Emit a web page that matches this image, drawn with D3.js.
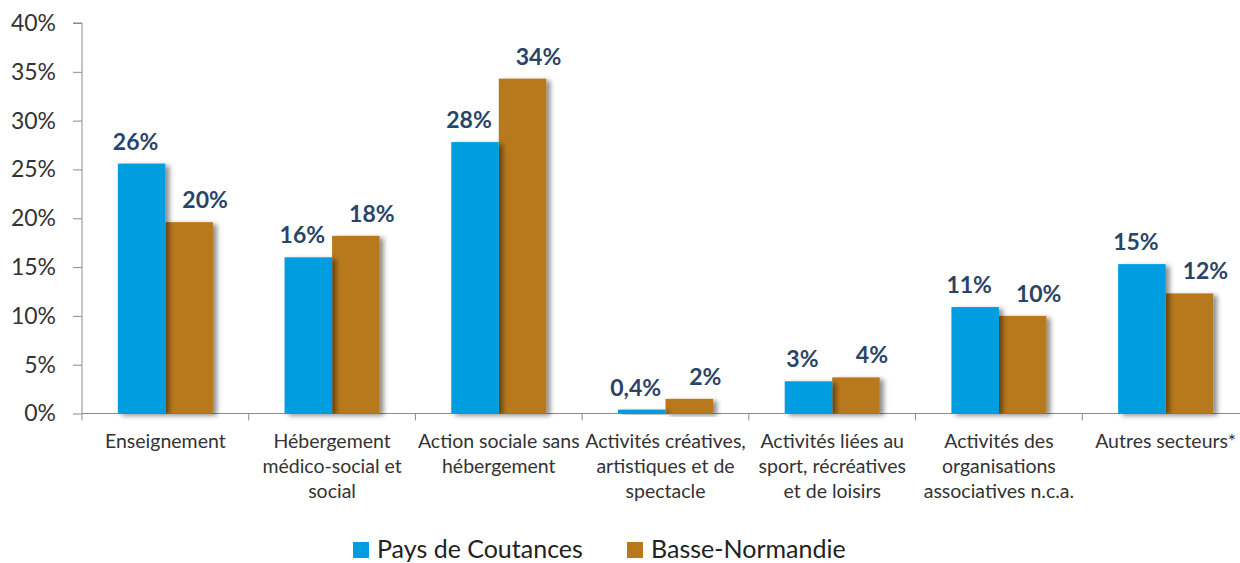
<!DOCTYPE html>
<html>
<head>
<meta charset="utf-8">
<script src="https://cdn.jsdelivr.net/npm/d3@7"></script>
<style>
  body { margin: 0; background: #fff; }
  svg { display: block; font-family: Lato, "Open Sans", sans-serif; }
</style>
</head>
<body>
<div id="chart"></div>
<script>
// Catégories (lignes de libellé)
const categories = [
  ["Enseignement"],
  ["Hébergement", "médico-social et", "social"],
  ["Action sociale sans", "hébergement"],
  ["Activités créatives,", "artistiques et de", "spectacle"],
  ["Activités liées au", "sport, récréatives", "et de loisirs"],
  ["Activités des", "organisations", "associatives n.c.a."],
  ["Autres secteurs*"]
];
const seriesNames = ["Pays de Coutances", "Basse-Normandie"];
const coutances = [25.6, 16.0, 27.8, 0.4, 3.3, 10.9, 15.3];
const basseNormandie = [19.6, 18.2, 34.3, 1.5, 3.7, 10.0, 12.3];
const coutancesLabels = ["26%", "16%", "28%", "0,4%", "3%", "11%", "15%"];
const basseNormandieLabels = ["20%", "18%", "34%", "2%", "4%", "10%", "12%"];
const yTicks = [0, 5, 10, 15, 20, 25, 30, 35, 40];
const colors = ["#009ee0", "#b8791e"];

(function () {
  const W = 1240, H = 563;
  const font = "Lato, 'Open Sans', sans-serif";
  const svg = d3.select("#chart").append("svg").attr("width", W).attr("height", H);

  // ombre portée des barres
  const defs = svg.append("defs");
  const f = defs.append("filter").attr("id", "shadow")
    .attr("x", "-20%").attr("y", "-20%").attr("width", "160%").attr("height", "140%");
  f.append("feDropShadow").attr("dx", 4).attr("dy", 2).attr("stdDeviation", 2.5)
    .attr("flood-color", "#000").attr("flood-opacity", 0.45);

  const mLeft = 82, mRight = 1249, mTop = 23, mBottom = 413.5;
  const idx = categories.map((_, i) => i);

  const x0 = d3.scaleBand().domain(idx).range([mLeft, mRight]).paddingInner(0.43).paddingOuter(0.215);
  const x1 = d3.scaleBand().domain([0, 1]).range([0, x0.bandwidth()]);
  const y = d3.scaleLinear().domain([0, 40]).range([mBottom, mTop]);

  // Axe Y
  const yAxis = svg.append("g").attr("transform", `translate(${mLeft},0)`)
    .call(d3.axisLeft(y).tickValues(yTicks).tickFormat(d => d + "%").tickSize(9).tickPadding(17));
  yAxis.attr("font-family", font);
  yAxis.select(".domain").attr("stroke", "#8c8c8c").attr("d", `M-9,${mTop}H0V${mBottom}`);
  yAxis.selectAll(".tick line").attr("stroke", "#8c8c8c");
  yAxis.selectAll(".tick text").attr("fill", "#333").style("font-size", "23px");

  // Axe X
  const xTicksPos = d3.range(categories.length + 1).map(i => mLeft + i * (mRight - mLeft) / categories.length);
  const xAxis = svg.append("g");
  xAxis.append("line").attr("x1", mLeft).attr("x2", mRight).attr("y1", mBottom).attr("y2", mBottom)
    .attr("stroke", "#8c8c8c");
  xAxis.selectAll(".xt").data(xTicksPos).join("line")
    .attr("x1", d => d).attr("x2", d => d).attr("y1", mBottom).attr("y2", mBottom + 7)
    .attr("stroke", "#8c8c8c");

  // Barres
  const series = [coutances, basseNormandie];
  const labels = [coutancesLabels, basseNormandieLabels];
  const labelShift = [-6, 16]; // décalage des étiquettes comme dans Excel
  const groups = svg.append("g").selectAll("g").data(idx).join("g")
    .attr("transform", i => `translate(${x0(i)},0)`);

  groups.selectAll("rect").data(i => [1, 0].map(s => ({ s, v: series[s][i] }))).join("rect")
    .attr("x", d => x1(d.s))
    .attr("y", d => y(d.v))
    .attr("width", x1.bandwidth())
    .attr("height", d => mBottom - y(d.v))
    .attr("fill", d => colors[d.s])
    .attr("filter", "url(#shadow)");

  groups.selectAll("text.val").data(i => [0, 1].map(s => ({ s, v: series[s][i], t: labels[s][i] }))).join("text")
    .attr("class", "val")
    .attr("x", d => x1(d.s) + x1.bandwidth() / 2 + labelShift[d.s])
    .attr("y", d => y(d.v) - 14)
    .attr("text-anchor", "middle")
    .attr("fill", "#2a4468")
    .style("font-size", "23px")
    .style("font-weight", "bold")
    .text(d => d.t);

  // Libellés de catégories
  const catG = svg.append("g").selectAll("text").data(idx).join("text")
    .attr("x", i => x0(i) + x0.bandwidth() / 2)
    .attr("y", 448)
    .attr("text-anchor", "middle")
    .attr("fill", "#333")
    .style("font-size", "19.5px");
  catG.selectAll("tspan").data(i => categories[i]).join("tspan")
    .attr("x", function () { return d3.select(this.parentNode).attr("x"); })
    .attr("dy", (d, j) => j === 0 ? 0 : 25)
    .text(d => d);

  // Légende
  const legendX = [353, 627];
  const leg = svg.append("g").selectAll("g").data(seriesNames).join("g")
    .attr("transform", (d, i) => `translate(${legendX[i]},542)`);
  leg.append("rect").attr("width", 16).attr("height", 16).attr("fill", (d, i) => colors[i]);
  leg.append("text").attr("x", 24).attr("y", 16).attr("fill", "#222")
    .style("font-size", "25px").text(d => d);
})();
</script>
</body>
</html>
